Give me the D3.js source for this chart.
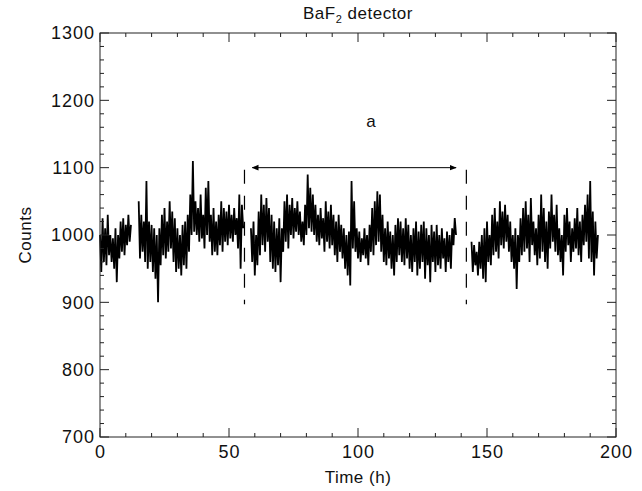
<!DOCTYPE html>
<html>
<head>
<meta charset="utf-8">
<script src="https://cdn.jsdelivr.net/npm/d3@7"></script>
<style>
  body { margin: 0; background: #fff; }
  text { font-family: "Liberation Sans", Arial, sans-serif; fill: #111; }
</style>
</head>
<body>
<div id="wrapper"></div>
<script>
// data (counts, one value every half hour)
const stepHours = 0.5
const segmentStarts = [0, 15, 58.5, 144]

const run1 = [1000, 945, 1025, 960, 1010, 955, 1030, 970, 1000, 960, 995, 950, 1010, 930, 1000, 965,
  1020, 975, 1025, 970, 1015, 985, 1030, 990, 1015]

const run2 = [1050, 965, 1030, 975, 1020, 960, 1080, 950, 1020, 960, 1015, 945, 1010, 935, 1000, 900,
  1010, 955, 1030, 970, 1040, 965, 1020, 975, 1050, 980, 1035, 960, 1025, 945, 1010, 950,
  1000, 940, 1015, 955, 1020, 950, 1030, 975, 1060, 1000, 1110, 1005, 1050, 1000, 1040, 990,
  1060, 995, 1030, 980, 1070, 1000, 1080, 990, 1030, 970, 1040, 975, 1020, 970, 1030, 985,
  1050, 975, 1040, 990, 1035, 985, 1045, 995, 1030, 990, 1040, 1000, 1025, 980, 1060, 950,
  1045, 1010]

const run3 = [1010, 960, 1020, 940, 1000, 955, 1035, 970, 1060, 985, 1045, 975, 1055, 990, 1040, 960,
  1030, 950, 1020, 945, 1010, 955, 1025, 930, 1010, 975, 1050, 990, 1060, 980, 1045, 1000,
  1055, 995, 1040, 1005, 1050, 1000, 1035, 990, 1020, 985, 1045, 1000, 1090, 1010, 1070, 1005,
  1060, 1000, 1045, 990, 1030, 985, 1040, 995, 1025, 975, 1050, 990, 1035, 980, 1045, 985,
  1030, 970, 1020, 960, 1030, 975, 1015, 965, 1010, 950, 1000, 940, 1005, 925, 1080, 980,
  1050, 975, 1010, 965, 1005, 960, 995, 970, 1010, 965, 1000, 955, 1015, 975, 1040, 970,
  1050, 985, 1065, 990, 1060, 975, 1030, 960, 1010, 955, 1020, 965, 1005, 950, 1000, 940,
  1015, 960, 1025, 970, 1020, 960, 1010, 955, 1025, 965, 1015, 950, 1000, 945, 1010, 960,
  1020, 940, 1005, 950, 1015, 960, 1020, 935, 1010, 955, 1000, 930, 1015, 960, 1005, 945,
  1015, 955, 1000, 950, 1010, 965, 995, 945, 1005, 960, 1000, 950, 1010, 985, 1025, 1000]

const run4 = [990, 945, 985, 955, 975, 940, 990, 950, 1000, 935, 1010, 930, 1020, 960, 1000, 955,
  1030, 970, 1040, 975, 1020, 965, 1050, 985, 1035, 980, 1045, 990, 1030, 975, 1020, 960,
  1000, 950, 1010, 920, 1000, 960, 1025, 970, 1040, 975, 1050, 980, 1030, 960, 1055, 985,
  1020, 970, 1010, 955, 1030, 965, 1060, 975, 1040, 960, 1020, 950, 1035, 980, 1060, 990,
  1030, 975, 1045, 970, 1010, 960, 1000, 940, 1030, 975, 1040, 985, 1020, 960, 1010, 975,
  1025, 980, 1040, 970, 1020, 960, 1030, 985, 1045, 990, 1060, 965, 1080, 960, 1035, 940,
  1020, 965, 1000]

const runs = [run1, run2, run3, run4]

// selected window "a" and its markers
const windowEdges = [56, 142]
const arrowSpan = [59, 138]
const arrowLevel = 1100
const edgeRange = [897, 1097]
const windowLabel = { text: "a", t: 105, counts: 1160 }

const xTicks = [0, 50, 100, 150, 200]
const yTicks = [700, 800, 900, 1000, 1100, 1200, 1300]

// 1. dimensions
let dimensions = {
  width: 642,
  height: 491,
  margin: { top: 33, right: 26, bottom: 54, left: 100 },
}
dimensions.boundedWidth = dimensions.width - dimensions.margin.left - dimensions.margin.right
dimensions.boundedHeight = dimensions.height - dimensions.margin.top - dimensions.margin.bottom

// 2. canvas
const wrapper = d3.select("#wrapper")
  .append("svg")
    .attr("width", dimensions.width)
    .attr("height", dimensions.height)

const bounds = wrapper.append("g")
  .attr("transform", `translate(${dimensions.margin.left},${dimensions.margin.top})`)

// 3. scales
const xScale = d3.scaleLinear()
  .domain([0, 200])
  .range([0, dimensions.boundedWidth])

const yScale = d3.scaleLinear()
  .domain([700, 1300])
  .range([dimensions.boundedHeight, 0])

// 4. data
const points = runs.map((run, i) => run.map((v, j) => ({ t: segmentStarts[i] + j * stepHours, v })))

const lineGenerator = d3.line()
  .x(d => xScale(d.t))
  .y(d => yScale(d.v))

bounds.selectAll(".run")
  .data(points)
  .enter().append("path")
    .attr("class", "run")
    .attr("d", lineGenerator)
    .attr("fill", "none")
    .attr("stroke", "#000")
    .attr("stroke-width", 1.8)
    .attr("stroke-linejoin", "miter")

// 5. window markers
bounds.selectAll(".edge")
  .data(windowEdges)
  .enter().append("line")
    .attr("x1", d => xScale(d))
    .attr("x2", d => xScale(d))
    .attr("y1", yScale(edgeRange[1]))
    .attr("y2", yScale(edgeRange[0]))
    .attr("stroke", "#000")
    .attr("stroke-width", 1.2)
    .attr("stroke-dasharray", "14 12")

const defs = wrapper.append("defs")
defs.append("marker")
    .attr("id", "head")
    .attr("viewBox", "0 0 10 10")
    .attr("refX", 9)
    .attr("refY", 5)
    .attr("markerWidth", 7)
    .attr("markerHeight", 7)
    .attr("orient", "auto-start-reverse")
  .append("path")
    .attr("d", "M0,1 L10,5 L0,9 Z")
    .attr("fill", "#000")

bounds.append("line")
    .attr("x1", xScale(arrowSpan[0]))
    .attr("x2", xScale(arrowSpan[1]))
    .attr("y1", yScale(arrowLevel))
    .attr("y2", yScale(arrowLevel))
    .attr("stroke", "#000")
    .attr("stroke-width", 1)
    .attr("marker-start", "url(#head)")
    .attr("marker-end", "url(#head)")

bounds.append("text")
    .attr("x", xScale(windowLabel.t))
    .attr("y", yScale(windowLabel.counts))
    .attr("text-anchor", "middle")
    .style("font-size", "17px")
    .text(windowLabel.text)

// 6. axes (ticks on all four sides, pointing inward)
const frame = bounds.append("rect")
    .attr("width", dimensions.boundedWidth)
    .attr("height", dimensions.boundedHeight)
    .attr("fill", "none")
    .attr("stroke", "#222")
    .attr("stroke-width", 1)

const xMinor = d3.range(0, 201, 10)
const yMinor = d3.range(700, 1301, 20)

const tickGroup = bounds.append("g").attr("stroke", "#222")
xMinor.forEach(t => {
  const len = t % 50 === 0 ? 9 : 4
  tickGroup.append("line")
    .attr("x1", xScale(t)).attr("x2", xScale(t))
    .attr("y1", dimensions.boundedHeight).attr("y2", dimensions.boundedHeight - len)
  tickGroup.append("line")
    .attr("x1", xScale(t)).attr("x2", xScale(t))
    .attr("y1", 0).attr("y2", len)
})
yMinor.forEach(c => {
  const len = c % 100 === 0 ? 9 : 4
  tickGroup.append("line")
    .attr("x1", 0).attr("x2", len)
    .attr("y1", yScale(c)).attr("y2", yScale(c))
  tickGroup.append("line")
    .attr("x1", dimensions.boundedWidth).attr("x2", dimensions.boundedWidth - len)
    .attr("y1", yScale(c)).attr("y2", yScale(c))
})

const xAxis = bounds.append("g")
  .attr("transform", `translate(0,${dimensions.boundedHeight})`)
  .call(d3.axisBottom(xScale).tickValues(xTicks).tickFormat(d3.format("d")).tickSize(0).tickPadding(8))
xAxis.select(".domain").remove()
xAxis.selectAll("text")
  .style("font-size", "18px")
  .style("letter-spacing", "1px")
  .attr("fill", "#111")

const yAxis = bounds.append("g")
  .call(d3.axisLeft(yScale).tickValues(yTicks).tickFormat(d3.format("d")).tickSize(0).tickPadding(5))
yAxis.select(".domain").remove()
yAxis.selectAll("text")
  .style("font-size", "18px")
  .style("letter-spacing", "1px")
  .attr("fill", "#111")

// labels
wrapper.append("text")
    .attr("x", dimensions.margin.left + dimensions.boundedWidth / 2)
    .attr("y", dimensions.height - 8)
    .attr("text-anchor", "middle")
    .style("font-size", "17px")
    .style("letter-spacing", "0.5px")
    .text("Time (h)")

wrapper.append("text")
    .attr("transform", `translate(31,${dimensions.margin.top + dimensions.boundedHeight / 2}) rotate(-90)`)
    .attr("text-anchor", "middle")
    .style("font-size", "17px")
    .style("letter-spacing", "0.5px")
    .text("Counts")

const title = wrapper.append("text")
    .attr("x", dimensions.margin.left + dimensions.boundedWidth / 2)
    .attr("y", 19)
    .attr("text-anchor", "middle")
    .style("font-size", "17px")
    .style("letter-spacing", "0.5px")
title.append("tspan").text("BaF")
title.append("tspan").attr("dy", 4).style("font-size", "11px").text("2")
title.append("tspan").attr("dy", -4).text(" detector")
</script>
</body>
</html>
